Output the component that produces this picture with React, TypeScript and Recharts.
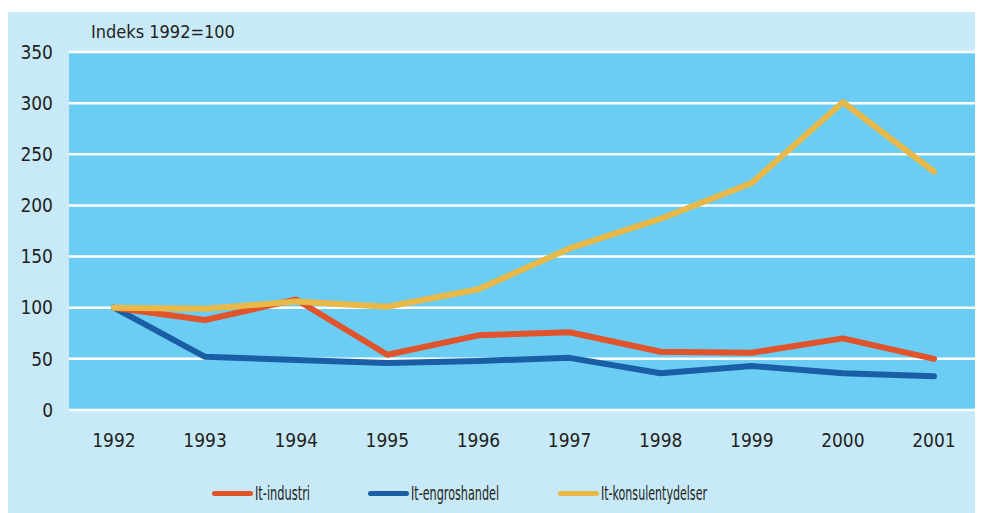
import React from 'react';
import { LineChart, Line, XAxis, YAxis, CartesianGrid } from 'recharts';

const years = ['1992', '1993', '1994', '1995', '1996', '1997', '1998', '1999', '2000', '2001'];
const itIndustri = [100, 88, 108, 54, 73, 76, 57, 56, 70, 50];
const itEngroshandel = [100, 52, 49, 46, 48, 51, 36, 43, 36, 33];
const itKonsulent = [100, 99, 106, 101, 118, 158, 187, 222, 301, 233];
const yTicks = [0, 50, 100, 150, 200, 250, 300, 350];

const seriesNames = ['It-industri', 'It-engroshandel', 'It-konsulentydelser'];
const seriesColors = ['#e0532b', '#1a5ea5', '#e8b848'];

const data = years.map((y, i) => ({
  year: y,
  a: itIndustri[i],
  b: itEngroshandel[i],
  c: itKonsulent[i],
}));

const FONT = '"DejaVu Sans Condensed", "DejaVu Sans", sans-serif';

const legendItems = [
  { name: seriesNames[0], color: seriesColors[0], x: 204, w: 55 },
  { name: seriesNames[1], color: seriesColors[1], x: 360, w: 88 },
  { name: seriesNames[2], color: seriesColors[2], x: 550, w: 106 },
];

export default function App() {
  return (
    <div style={{ position: 'relative', width: 975, height: 501, marginTop: 4, background: '#c8eaf8' }}>
      <div
        style={{
          position: 'absolute',
          left: 83,
          top: 11,
          fontFamily: FONT,
          fontSize: 18,
          lineHeight: '18px',
          color: '#231f20',
          whiteSpace: 'nowrap',
        }}
      >
        Indeks 1992=100
      </div>
      <LineChart width={975} height={501} data={data} margin={{ top: 40, right: 4, bottom: 73, left: 0 }}>
        <CartesianGrid vertical={false} stroke="#ffffff" strokeWidth={2.5} fill="#6bcdf4" fillOpacity={1} />
        <XAxis
          dataKey="year"
          height={30}
          tickLine={false}
          axisLine={false}
          tickSize={0}
          tickMargin={24}
          padding={{ left: 45, right: 45 }}
          tick={{ fill: '#231f20', fontSize: 19, fontFamily: FONT }}
          interval={0}
        />
        <YAxis
          width={61}
          domain={[0, 350]}
          ticks={yTicks}
          tickLine={false}
          axisLine={false}
          tickSize={0}
          tickMargin={16}
          tick={{ fill: '#231f20', fontSize: 19, fontFamily: FONT }}
          interval={0}
        />
        <Line dataKey="b" name={seriesNames[1]} stroke={seriesColors[1]} strokeWidth={6} dot={false} strokeLinecap="round" strokeLinejoin="round" isAnimationActive={false} />
        <Line dataKey="a" name={seriesNames[0]} stroke={seriesColors[0]} strokeWidth={6} dot={false} strokeLinecap="round" strokeLinejoin="round" isAnimationActive={false} />
        <Line dataKey="c" name={seriesNames[2]} stroke={seriesColors[2]} strokeWidth={6} dot={false} strokeLinecap="round" strokeLinejoin="round" isAnimationActive={false} />
      </LineChart>
      {legendItems.map((it) => (
        <div
          key={it.name}
          style={{ position: 'absolute', left: it.x, top: 466, display: 'flex', alignItems: 'center', height: 30 }}
        >
          <div style={{ width: 41, height: 5, borderRadius: 3, background: it.color, marginRight: 2 }} />
          <svg width={it.w + 4} height={30} style={{ overflow: 'visible' }}>
            <text
              x={0}
              y={22}
              textLength={it.w}
              lengthAdjust="spacingAndGlyphs"
              fontFamily={FONT}
              fontSize={20}
              fill="#231f20"
            >
              {it.name}
            </text>
          </svg>
        </div>
      ))}
    </div>
  );
}
